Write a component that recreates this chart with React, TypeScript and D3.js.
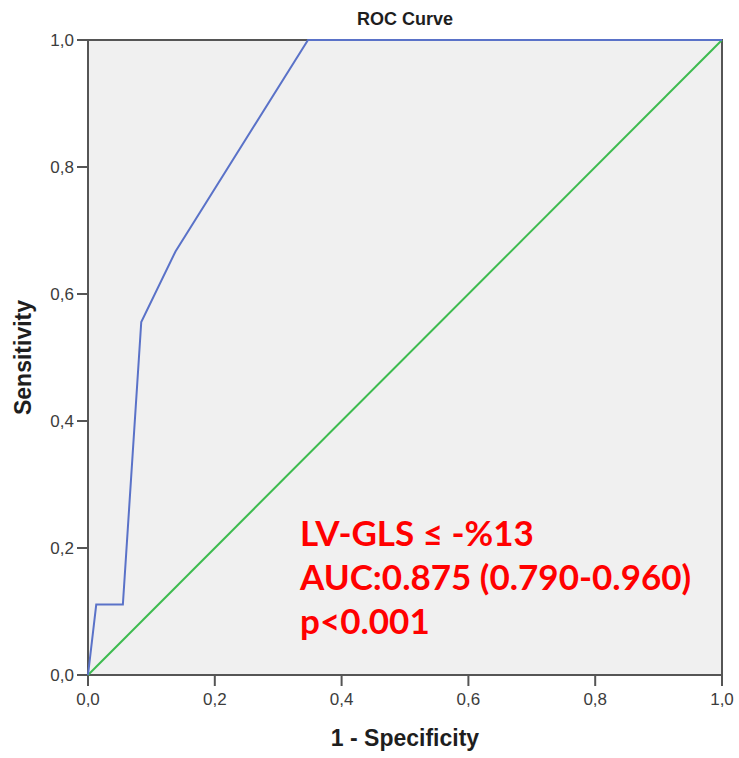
import * as d3 from "d3";

const fpr = [0, 0.013, 0.055, 0.084, 0.138, 0.347, 1];
const tpr = [0, 0.111, 0.111, 0.556, 0.667, 1, 1];
const refLine = [0, 1];
const ticks = [0, 0.2, 0.4, 0.6, 0.8, 1];
const notes = ["LV-GLS ≤ -%13", "AUC:0.875 (0.790-0.960)", "p<0.001"];

export default function App() {
  const W = 739;
  const H = 758;
  const m = { left: 88, right: 17, top: 40, bottom: 83 };
  const x = d3.scaleLinear().domain([0, 1]).range([m.left, W - m.right]);
  const y = d3.scaleLinear().domain([0, 1]).range([H - m.bottom, m.top]);
  const fmt = (v: number) => d3.format(".1f")(v).replace(".", ",");
  const roc = d3
    .line<number>()
    .x((_, i) => x(fpr[i]))
    .y((d) => y(d));
  const diag = d3
    .line<number>()
    .x((d) => x(d))
    .y((d) => y(d));

  return (
    <svg
      width={W}
      height={H}
      style={{ position: "absolute", left: 0, top: 0, fontFamily: "Liberation Sans, Arial, sans-serif" }}
    >
      <rect x={0} y={0} width={W} height={H} fill="#fff" />
      <rect
        x={x(0)}
        y={y(1)}
        width={x(1) - x(0)}
        height={y(0) - y(1)}
        fill="#f0f0f0"
        stroke="#555"
        strokeWidth={2}
      />
      <text x={(x(0) + x(1)) / 2} y={25} textAnchor="middle" fontSize={18} fontWeight="bold" fill="#1e1e1e">
        ROC Curve
      </text>
      {/* y axis ticks */}
      {ticks.map((t) => (
        <g key={"y" + t}>
          <line x1={x(0) - 11} x2={x(0)} y1={y(t)} y2={y(t)} stroke="#555" strokeWidth={2} />
          <text x={x(0) - 14} y={y(t) + 6} textAnchor="end" fontSize={17} fill="#3c3c3c">
            {fmt(t)}
          </text>
        </g>
      ))}
      {/* x axis ticks */}
      {ticks.map((t) => (
        <g key={"x" + t}>
          <line x1={x(t)} x2={x(t)} y1={y(0)} y2={y(0) + 11} stroke="#555" strokeWidth={2} />
          <text x={x(t)} y={y(0) + 30} textAnchor="middle" fontSize={17} fill="#3c3c3c">
            {fmt(t)}
          </text>
        </g>
      ))}
      <path d={diag(refLine) ?? ""} fill="none" stroke="#3dbb4f" strokeWidth={2} />
      <path d={roc(tpr) ?? ""} fill="none" stroke="#5a72c8" strokeWidth={2} />
      <text x={(x(0) + x(1)) / 2} y={746} textAnchor="middle" fontSize={23} fontWeight="bold" fill="#1e1e1e">
        1 - Specificity
      </text>
      <text
        transform={`translate(31,${(y(0) + y(1)) / 2}) rotate(-90)`}
        textAnchor="middle"
        fontSize={23}
        fontWeight="bold"
        fill="#1e1e1e"
      >
        Sensitivity
      </text>
      {notes.map((n, i) => (
        <text
          key={n}
          x={300}
          y={546 + i * 44}
          fontSize={35}
          fontWeight="bold"
          fill="#ff0000"
          style={{ fontFamily: "Lato, Carlito, sans-serif" }}
        >
          {n}
        </text>
      ))}
    </svg>
  );
}
